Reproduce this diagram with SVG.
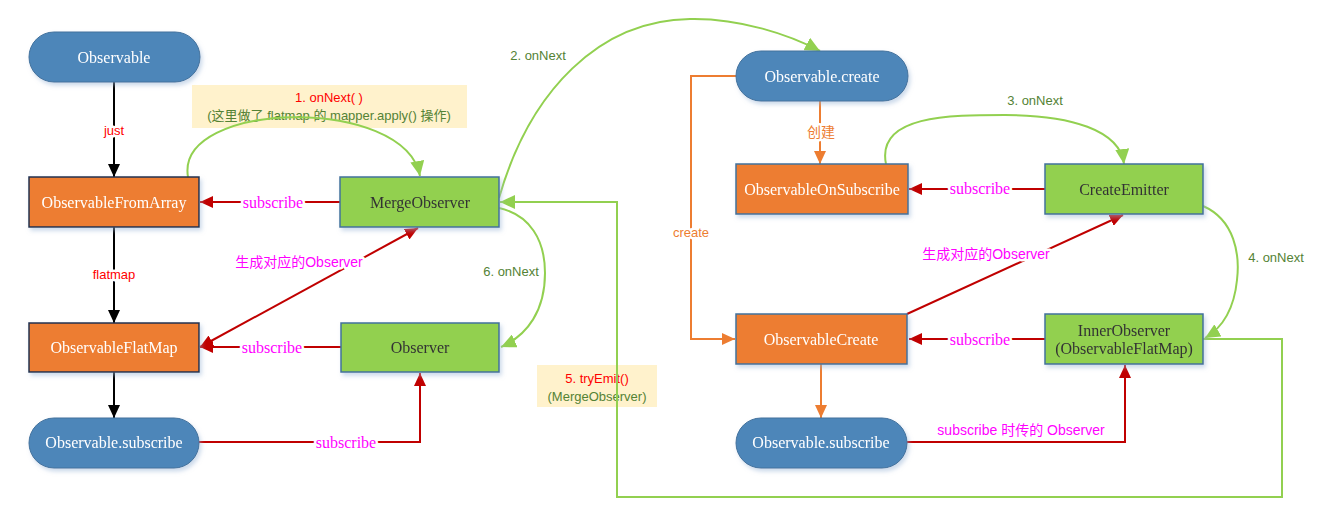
<svg xmlns="http://www.w3.org/2000/svg" width="1324" height="518" viewBox="0 0 1324 518">
<style>
.pill{fill:#4e86b9;stroke:#41719c;stroke-width:1}
.orL{fill:#ed7d31;stroke:#1f2f4f;stroke-width:1.5}
.orR{fill:#ed7d31;stroke:#41719c;stroke-width:1.5}
.grn{fill:#92d050;stroke:#41719c;stroke-width:1.5}
.nt{font-family:"Liberation Serif","Noto Sans CJK SC",serif;font-size:16px;text-anchor:middle;dominant-baseline:central}
.w{fill:#ffffff}
.d{fill:#333333}
.lbl{font-family:"Liberation Sans","Noto Sans CJK SC",sans-serif;font-size:13px;text-anchor:middle;dominant-baseline:central;paint-order:stroke;stroke:#ffffff;stroke-width:5px;stroke-linejoin:round}
.sub{font-family:"Liberation Serif","Noto Sans CJK SC",serif;font-size:16px;fill:#ff00ff;text-anchor:middle;dominant-baseline:central;paint-order:stroke;stroke:#ffffff;stroke-width:5px;stroke-linejoin:round}
.mag{fill:#ff00ff;font-size:14px}
.red{fill:#ff0000}
.dg{fill:#548235}
.og{fill:#ed7d31;font-size:14px}
.cr{fill:#ed7d31}
.note{font-family:"Liberation Sans","Noto Sans CJK SC",sans-serif;font-size:13px;text-anchor:middle;dominant-baseline:central}
.lr{fill:none;stroke:#c00000;stroke-width:2}
.lk{fill:none;stroke:#000000;stroke-width:2}
.lg{fill:none;stroke:#92d050;stroke-width:2}
.lo{fill:none;stroke:#ed7d31;stroke-width:2}
</style>
<defs>
<filter id="sh" x="-10%" y="-20%" width="130%" height="150%">
<feDropShadow dx="2" dy="3" stdDeviation="2" flood-color="#9ab5d6" flood-opacity="0.5"/>
</filter>
<marker id="ar" markerUnits="userSpaceOnUse" markerWidth="14" markerHeight="12" refX="13" refY="6" orient="auto-start-reverse"><path d="M0,0 L13,6 L0,12 z" fill="#c00000"/></marker>
<marker id="ak" markerUnits="userSpaceOnUse" markerWidth="14" markerHeight="12" refX="13" refY="6" orient="auto"><path d="M0,0 L13,6 L0,12 z" fill="#000000"/></marker>
<marker id="ag" markerUnits="userSpaceOnUse" markerWidth="16" markerHeight="14" refX="15" refY="7" orient="auto"><path d="M0,0 L15,7 L0,14 z" fill="#92d050"/></marker>
<marker id="ao" markerUnits="userSpaceOnUse" markerWidth="14" markerHeight="12" refX="13" refY="6" orient="auto"><path d="M0,0 L13,6 L0,12 z" fill="#ed7d31"/></marker>
</defs>
<rect width="1324" height="518" fill="#ffffff"/>

<g id="note1">
<rect x="192" y="85" width="275" height="43" fill="#fff2cc"/>
<text class="note red" x="329" y="97">1. onNext( )</text>
<text class="note dg" x="329" y="115">(这里做了 flatmap 的 mapper.apply() 操作)</text>
</g>
<g id="note5">
<rect x="537" y="365" width="120" height="42" fill="#fff2cc"/>
<text class="note red" x="597" y="378">5. tryEmit()</text>
<text class="note dg" x="597" y="396">(MergeObserver)</text>
</g>

<g id="connectors">
<path class="lk" d="M114,82 V177" marker-end="url(#ak)"/>
<path class="lk" d="M114,227 V323" marker-end="url(#ak)"/>
<path class="lk" d="M114,372 V418" marker-end="url(#ak)"/>
<path class="lr" d="M340,202 H200" marker-end="url(#ar)"/>
<path class="lr" d="M341,347 H200" marker-end="url(#ar)"/>
<path class="lr" d="M199,442 H420 V373" marker-end="url(#ar)"/>
<path class="lr" d="M200,347 L418,228" marker-start="url(#ar)" marker-end="url(#ar)"/>
<path class="lr" d="M1045,189 H909" marker-end="url(#ar)"/>
<path class="lr" d="M1045,339 H909" marker-end="url(#ar)"/>
<path class="lr" d="M907,314 L1123,215" marker-end="url(#ar)"/>
<path class="lr" d="M907,442 H1125 V365" marker-end="url(#ar)"/>
<path class="lo" d="M820,101 V164" marker-end="url(#ao)"/>
<path class="lo" d="M736,76 H691 V339 H735" marker-end="url(#ao)"/>
<path class="lo" d="M821,364 V418" marker-end="url(#ao)"/>
<path class="lg" d="M188,177 C175,100 405,95 420,176" marker-end="url(#ag)"/>
<path class="lg" d="M499,198 C530,90 600,20 690,19 C740,18 790,35 820,51" marker-end="url(#ag)"/>
<path class="lg" d="M886,164 C876,115 950,115 1005,115 C1070,115 1120,130 1124,164" marker-end="url(#ag)"/>
<path class="lg" d="M1203,206 C1235,220 1240,255 1237,280 C1234,310 1222,328 1205,338" marker-end="url(#ag)"/>
<path class="lg" d="M499,208 C530,215 545,240 545,273 C545,310 528,335 501,347" marker-end="url(#ag)"/>
<path class="lg" d="M1203,339 H1282 V497 H617 V202 H500" marker-end="url(#ag)"/>
<text class="lbl red" x="114" y="130">just</text>
<text class="lbl red" x="114" y="274">flatmap</text>
<text class="sub" x="273" y="202">subscribe</text>
<text class="sub" x="272" y="347">subscribe</text>
<text class="sub" x="346" y="442">subscribe</text>
<text class="sub" x="980" y="188">subscribe</text>
<text class="sub" x="980" y="339">subscribe</text>
<text class="lbl mag" x="299" y="262">生成对应的Observer</text>
<text class="lbl mag" x="986" y="254">生成对应的Observer</text>
<text class="lbl mag" x="1021" y="430">subscribe 时传的 Observer</text>
<text class="lbl og" x="821" y="132">创建</text>
<text class="lbl cr" x="691" y="232">create</text>
<text class="lbl dg" x="538" y="55">2. onNext</text>
<text class="lbl dg" x="1035" y="100">3. onNext</text>
<text class="lbl dg" x="1276" y="257">4. onNext</text>
<text class="lbl dg" x="511" y="271">6. onNext</text>
</g>

<g id="observable" filter="url(#sh)"><rect class="pill" x="29" y="32" width="171" height="50" rx="25"/><text class="nt w" x="114" y="57">Observable</text></g>
<g id="observableFromArray" filter="url(#sh)"><rect class="orL" x="29" y="177" width="170" height="50"/><text class="nt w" x="114" y="202">ObservableFromArray</text></g>
<g id="mergeObserver" filter="url(#sh)"><rect class="grn" x="340" y="177" width="159" height="50"/><text class="nt d" x="420" y="202">MergeObserver</text></g>
<g id="observableFlatMap" filter="url(#sh)"><rect class="orL" x="29" y="323" width="170" height="49"/><text class="nt w" x="114" y="347">ObservableFlatMap</text></g>
<g id="observer" filter="url(#sh)"><rect class="grn" x="341" y="323" width="158" height="49"/><text class="nt d" x="420" y="347">Observer</text></g>
<g id="observableSubscribeL" filter="url(#sh)"><rect class="pill" x="29" y="418" width="170" height="50" rx="25"/><text class="nt w" x="114" y="442">Observable.subscribe</text></g>
<g id="observableCreate1" filter="url(#sh)"><rect class="pill" x="736" y="51" width="172" height="50" rx="25"/><text class="nt w" x="822" y="76">Observable.create</text></g>
<g id="observableOnSubscribe" filter="url(#sh)"><rect class="orR" x="736" y="164" width="172" height="50"/><text class="nt w" x="822" y="189">ObservableOnSubscribe</text></g>
<g id="createEmitter" filter="url(#sh)"><rect class="grn" x="1045" y="164" width="158" height="50"/><text class="nt d" x="1124" y="189">CreateEmitter</text></g>
<g id="observableCreate" filter="url(#sh)"><rect class="orR" x="736" y="314" width="171" height="50"/><text class="nt w" x="821" y="339">ObservableCreate</text></g>
<g id="innerObserver" filter="url(#sh)"><rect class="grn" x="1045" y="314" width="158" height="50"/><text class="nt d" x="1124" y="330">InnerObserver</text><text class="nt d" x="1124" y="348">(ObservableFlatMap)</text></g>
<g id="observableSubscribeR" filter="url(#sh)"><rect class="pill" x="736" y="418" width="171" height="50" rx="25"/><text class="nt w" x="821" y="442">Observable.subscribe</text></g>
</svg>
